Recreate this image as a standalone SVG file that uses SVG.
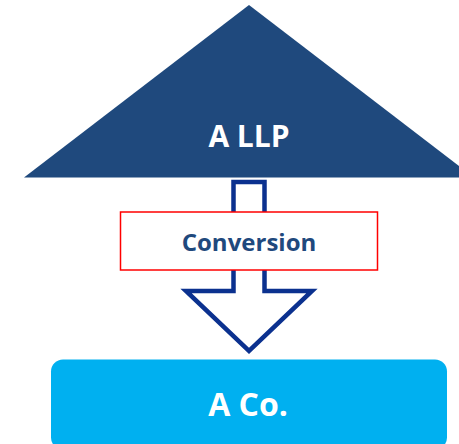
<svg xmlns="http://www.w3.org/2000/svg" width="459" height="444" viewBox="0 0 459 444">
  <style>
    .lbl { font-family: "Open Sans", "Liberation Sans", sans-serif; font-weight: bold; text-anchor: middle; }
  </style>
  <rect width="459" height="444" fill="#ffffff"/>
  <g id="llp">
    <polygon points="249,5 24,177.5 474,177.5" fill="#1f497d"/>
    <text class="lbl" x="249" y="147" font-size="30" fill="#ffffff">A LLP</text>
  </g>
  <g id="connectors">
    <polygon points="233.5,182 264.5,182 264.5,291 312,291 249,351 186,291 233.5,291" fill="#ffffff" stroke="#0b318f" stroke-width="4.5" stroke-linejoin="miter"/>
  </g>
  <g id="conversion">
    <rect x="120.5" y="212" width="257" height="58" fill="#ffffff" stroke="#ff0000" stroke-width="1.5"/>
    <text class="lbl" x="249" y="251" font-size="24" fill="#1f497d">Conversion</text>
  </g>
  <g id="aco">
    <rect x="51" y="359.5" width="396" height="90" rx="12" ry="12" fill="#00b0f0"/>
    <text class="lbl" x="248" y="415.5" font-size="32" fill="#ffffff">A Co.</text>
  </g>
</svg>
